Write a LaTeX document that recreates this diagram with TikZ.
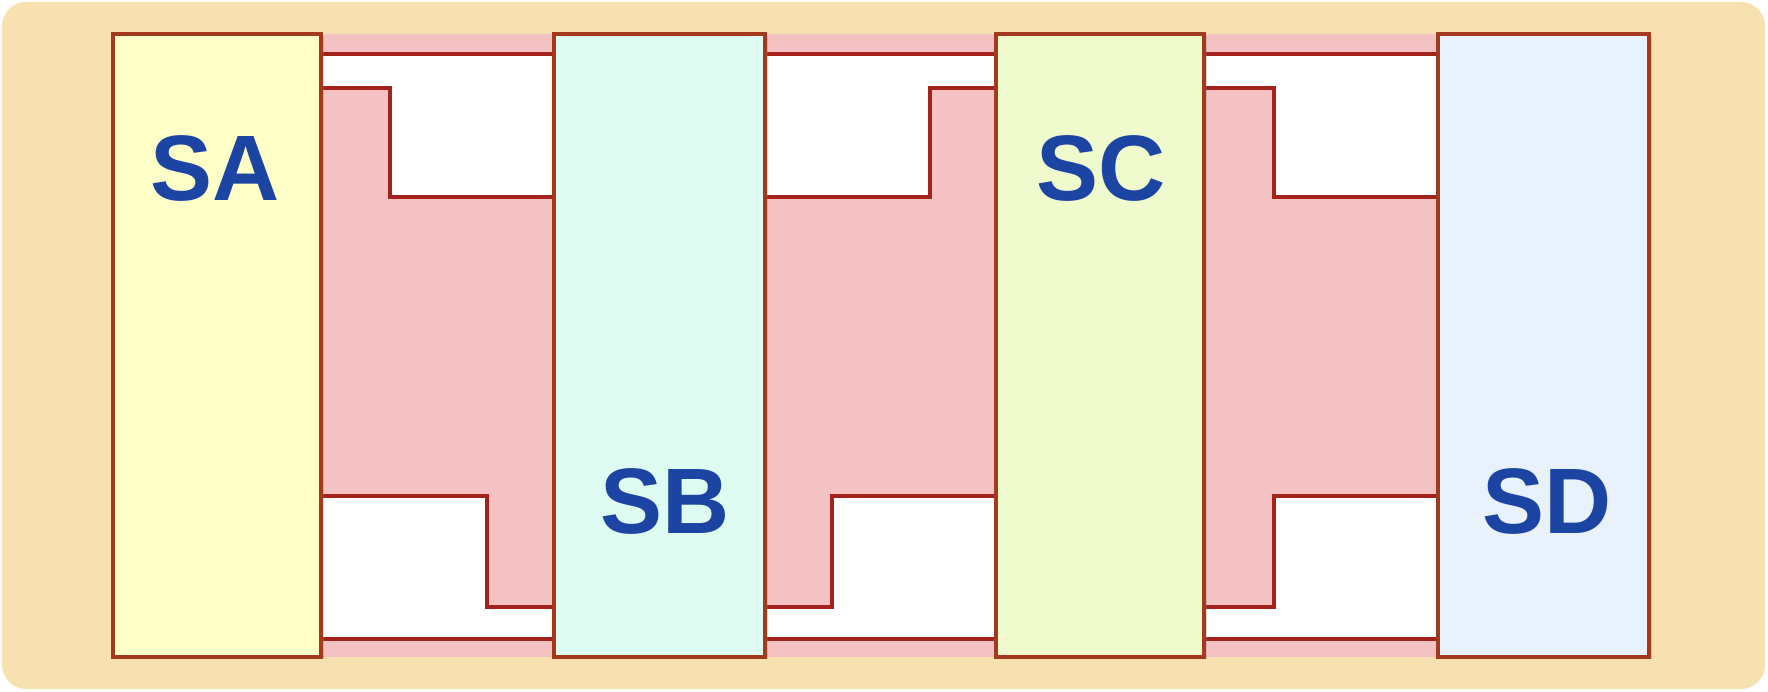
\documentclass[tikz,border=0pt]{standalone}
\usepackage{fontspec}
\setmainfont{Liberation Sans}
\usetikzlibrary{shadows}
\definecolor{bgtan}{HTML}{F8E1B0}
\definecolor{pinkband}{HTML}{F4C2C2}
\definecolor{boxline}{HTML}{A33A1E}
\definecolor{stepline}{HTML}{A3221C}
\definecolor{fillA}{HTML}{FFFFC8}
\definecolor{fillB}{HTML}{DEFCF2}
\definecolor{fillC}{HTML}{EFFBCD}
\definecolor{fillD}{HTML}{E9F1FC}
\definecolor{labelblue}{HTML}{1B44A3}
\begin{document}
\begin{tikzpicture}[x=1pt,y=-1pt,
  stagebox/.style={draw=boxline, line width=4.5pt, minimum height=623pt, inner sep=0pt,
    drop shadow={shadow xshift=3pt, shadow yshift=-2pt, opacity=0.3}},
  gapwhite/.style={fill=white, draw=stepline, line width=4.5pt, line join=miter},
  stagelabel/.style={text=labelblue, font=\fontsize{93}{93}\selectfont\bfseries, inner sep=0pt}]
\useasboundingbox (0,0) rectangle (1768,692);
\fill[bgtan, rounded corners=24pt] (2,2) rectangle (1765,689);
% pink bands
\fill[pinkband] (321,34) rectangle (554,657);
\fill[pinkband] (765,34) rectangle (996,657);
\fill[pinkband] (1204,34) rectangle (1438,657);
% white gaps
\draw[gapwhite] (321,54) -- (554,54) -- (554,197) -- (390,197) -- (390,88) -- (321,88) -- cycle;
\draw[gapwhite] (321,496) -- (487,496) -- (487,607) -- (554,607) -- (554,639) -- (321,639) -- cycle;
\draw[gapwhite] (765,54) -- (996,54) -- (996,88) -- (930,88) -- (930,197) -- (765,197) -- cycle;
\draw[gapwhite] (765,607) -- (832,607) -- (832,496) -- (996,496) -- (996,639) -- (765,639) -- cycle;
\draw[gapwhite] (1204,54) -- (1438,54) -- (1438,197) -- (1274,197) -- (1274,88) -- (1204,88) -- cycle;
\draw[gapwhite] (1204,607) -- (1274,607) -- (1274,496) -- (1438,496) -- (1438,639) -- (1204,639) -- cycle;
% stage boxes
\node[stagebox, fill=fillA, minimum width=208pt] (SA) at (217,345.5) {};
\node[stagebox, fill=fillB, minimum width=211pt] (SB) at (659.5,345.5) {};
\node[stagebox, fill=fillC, minimum width=208pt] (SC) at (1100,345.5) {};
\node[stagebox, fill=fillD, minimum width=211pt] (SD) at (1543.5,345.5) {};
% labels
\node[stagelabel] (LA) at (215,168) {SA};
\node[stagelabel] (LB) at (665,501) {SB};
\node[stagelabel] (LC) at (1101,168) {SC};
\node[stagelabel] (LD) at (1547,501) {SD};
\end{tikzpicture}
\end{document}
